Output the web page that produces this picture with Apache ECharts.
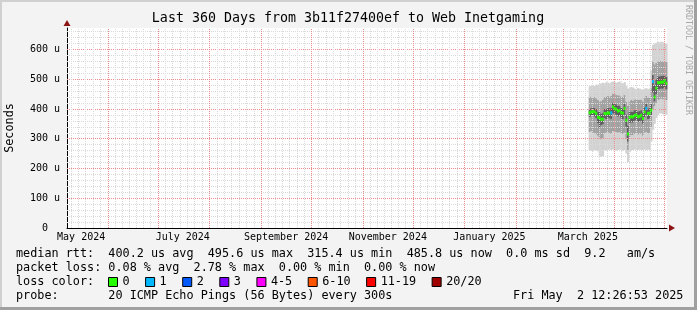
<!DOCTYPE html>
<html><head><meta charset="utf-8">
<script src="https://cdn.jsdelivr.net/npm/echarts@6/dist/echarts.min.js"></script>
<style>html,body{margin:0;padding:0;background:#f3f3f3}#c{width:697px;height:310px}</style>
</head><body><div id="c"></div><script>
// ---------------- data ----------------
const titleText = 'Last 360 Days from 3b11f27400ef to Web Inetgaming';
const rangeStart = '2024-05-07T12:26:53Z';
const rangeEnd = '2025-05-02T12:26:53Z';
const monthStarts = ['2024-05-01','2024-06-01','2024-07-01','2024-08-01','2024-09-01','2024-10-01','2024-11-01','2024-12-01','2025-01-01','2025-02-01','2025-03-01','2025-04-01','2025-05-01','2025-06-01'];
const xLabelDates = ['2024-05-16','2024-07-16','2024-09-16','2024-11-16','2025-01-16','2025-03-16'];
const xLabels = ['May 2024','July 2024','September 2024','November 2024','January 2025','March 2025'];
const yTicks = [0,100,200,300,400,500,600];
const yMax = 672;
const yMinorStep = 20;

// one sample per day (RRA consolidated), first sample date:
const sampleStart = '2025-03-17T00:00:00Z';
const sampleStepDays = 1;
const median     = [387,390,391,390,385,372,370,365,366,385,384,387,386,387,407,401,399,393,395,387,386,402,362,316,372,374,373,378,380,374,375,379,368,390,402,385,386,396,492,440,470,488,488,490,490,495,486];
const lossLevel  = [0,0,0,0,0,0,0,0,0,0,0,0,0,1,0,0,0,0,0,0,0,0,0,0,0,0,0,0,0,0,0,0,0,0,1,0,0,0,1,0,0,0,0,0,0,0,0];
const smokeLo    = [262,260,258,262,260,258,240,238,242,262,260,262,264,262,264,262,260,262,264,262,260,262,250,222,255,262,262,264,262,262,264,262,262,264,262,264,262,290,330,350,370,380,385,385,382,385,380];
const smokeLoMid = [322,325,320,318,315,310,300,298,302,318,320,322,318,316,326,324,322,320,322,318,316,320,300,262,305,312,312,316,318,314,315,316,310,320,322,318,318,340,400,410,420,430,432,434,432,435,430];
const smokeLoIn  = [372,375,376,374,368,352,338,345,348,368,366,370,368,365,385,382,380,374,376,368,366,380,340,290,350,354,354,360,362,356,357,360,350,372,380,366,368,378,455,425,450,465,466,468,468,472,465];
const smokeHiIn  = [400,403,404,405,400,392,390,385,386,402,400,404,403,405,422,418,416,410,412,404,402,418,382,345,390,392,390,396,398,392,393,396,388,406,418,402,404,420,515,480,500,510,510,512,512,515,508];
const smokeHiMid = [440,442,438,440,436,430,428,426,430,440,442,445,442,444,452,450,448,446,446,442,440,448,425,410,428,430,428,432,434,430,430,432,426,438,444,438,440,470,560,550,555,560,562,562,560,562,558];
const smokeHi    = [476,478,480,477,482,480,484,486,488,486,490,488,486,490,492,490,488,490,492,488,486,490,478,468,470,474,472,468,466,470,468,466,464,468,470,466,468,530,615,620,622,625,624,626,624,622,620];

const lossNames  = ['0','1','2','3','4-5','6-10','11-19','20/20'];
const lossColors = ['#26ff00','#00b8ff','#0059ff','#7e00ff','#ff00ff','#ff5500','#ff0000','#a10000'];

const statLine1 = 'median rtt:  400.2 us avg  495.6 us max  315.4 us min  485.8 us now  0.0 ms sd  9.2   am/s';
const statLine2 = 'packet loss: 0.08 % avg  2.78 % max  0.00 % min  0.00 % now';
const statLine3 = 'loss color:';
const statLine4 = 'probe:       20 ICMP Echo Pings (56 Bytes) every 300s';
const stampText = 'Fri May  2 12:26:53 2025';
const yTitle = 'Seconds';
const sideText = 'RRDTOOL / TOBI OETIKER';

// ---------------- build ----------------
const DAY = 86400000;
const tStart = Date.parse(rangeStart), tEnd = Date.parse(rangeEnd);
const t0 = Date.parse(sampleStart);
const stepMs = sampleStepDays * DAY;
const times = median.map((_, i) => t0 + i * stepMs);
const labelTimes = xLabelDates.map(d => Date.parse(d + 'T00:00:00Z'));
const monthTimes = monthStarts.map(d => Date.parse(d + 'T00:00:00Z'));

const MONO = '"DejaVu Sans Mono", monospace';
const RED = '#ec8c8c', GRAY = '#dadada';

const gridLines = [];
for (let v = yMinorStep; v < yMax; v += yMinorStep) {
  const major = v % 100 === 0;
  gridLines.push({yAxis: v, lineStyle: {color: major ? RED : GRAY, type: [1, 1], width: 1}});
}
for (let i = 0; i < monthTimes.length - 1; i++) {
  const a = monthTimes[i], b = monthTimes[i + 1];
  for (let j = 1; j < 7; j++) {
    const t = a + (b - a) * j / 7;
    if (t > tStart && t < tEnd) gridLines.push({xAxis: t, lineStyle: {color: GRAY, type: [1, 1], width: 1}});
  }
  if (a > tStart && a < tEnd) gridLines.push({xAxis: a, lineStyle: {color: RED, type: [1, 1], width: 1}});
}

const smokeData = times.map((t, i) => [t, smokeLo[i], smokeLoMid[i], smokeLoIn[i], smokeHiIn[i], smokeHiMid[i], smokeHi[i]]);
const SHADES = ['#d2d2d2', '#a2a2a2', '#5e5e5e', '#a2a2a2', '#d2d2d2'];

const series = [];
series.push({
  name: 'smoke', type: 'custom', z: 2, silent: true,
  encode: {x: 0, y: [1, 2, 3, 4, 5, 6]},
  data: smokeData,
  renderItem(params, api) {
    const t = api.value(0);
    const w = api.size([stepMs, 0])[0];
    const x = api.coord([t, 0])[0] - w / 2;
    const ys = [1, 2, 3, 4, 5, 6].map(k => api.coord([t, api.value(k)])[1]);
    const children = SHADES.map((c, k) => ({
      type: 'rect',
      shape: {x: x, y: ys[k + 1], width: w + 0.5, height: ys[k] - ys[k + 1]},
      style: {fill: c}
    }));
    return {type: 'group', children};
  }
});
series.push({
  name: 'grid', type: 'line', data: [], silent: true,
  markLine: {silent: true, symbol: ['none', 'none'], label: {show: false}, animation: false, data: gridLines},
  markPoint: {silent: true, label: {show: false}, animation: false, data: [
    {coord: [tStart, yMax], symbol: 'triangle', symbolSize: [7, 6], symbolOffset: [0, -5], itemStyle: {color: '#8b1414'}},
    {coord: [tEnd, 0], symbol: 'triangle', symbolSize: [7, 6], symbolRotate: -90, symbolOffset: [5, 0], itemStyle: {color: '#8b1414'}}
  ]}
});
lossNames.forEach((name, L) => {
  const data = [];
  times.forEach((t, i) => { if (lossLevel[i] === L) data.push([t, median[i]]); });
  series.push({
    name, type: 'custom', z: 10, silent: true,
    itemStyle: {color: lossColors[L]},
    encode: {x: 0, y: 1},
    data,
    renderItem(params, api) {
      const t = api.value(0);
      const w = api.size([stepMs, 0])[0];
      const p = api.coord([t, api.value(1)]);
      return {type: 'rect', shape: {x: p[0] - w / 2, y: p[1] - 1.5, width: w + 0.3, height: 3}, style: {fill: api.visual('color')}};
    }
  });
});

const chart = echarts.init(document.getElementById('c'), null, {renderer: 'canvas'});
chart.setOption({
  animation: false,
  backgroundColor: '#f3f3f3',
  grid: {left: 67, right: 30, top: 28, bottom: 82, show: true, backgroundColor: '#ffffff', borderWidth: 0},
  xAxis: {
    type: 'value', min: tStart, max: tEnd,
    splitLine: {show: false}, axisTick: {show: false},
    axisLine: {lineStyle: {color: '#000', width: 1}},
    axisLabel: {customValues: labelTimes, formatter: v => xLabels[labelTimes.indexOf(v)],
      fontFamily: MONO, fontSize: 10, color: '#000', margin: 4}
  },
  yAxis: {
    type: 'value', min: 0, max: yMax,
    splitLine: {show: false}, axisTick: {show: false},
    axisLine: {show: true, lineStyle: {color: '#000', width: 1}},
    axisLabel: {customValues: yTicks, formatter: v => v === 0 ? '0\u00a0\u00a0' : v + ' u',
      fontFamily: MONO, fontSize: 10, color: '#000', margin: 7}
  },
  legend: {
    data: lossNames, left: 108, top: 275, padding: 0, itemWidth: 9, itemHeight: 9, itemGap: 15.5,
    icon: 'rect', selectedMode: false,
    itemStyle: {borderColor: '#000', borderWidth: 1},
    textStyle: {fontFamily: MONO, fontSize: 11.8, color: '#000', lineHeight: 14}
  },
  graphic: [
    {type: 'rect', shape: {x: 0, y: 0, width: 697, height: 2}, style: {fill: '#d0d0d0'}, silent: true},
    {type: 'rect', shape: {x: 0, y: 0, width: 2, height: 310}, style: {fill: '#d0d0d0'}, silent: true},
    {type: 'rect', shape: {x: 0, y: 307, width: 697, height: 3}, style: {fill: '#a0a0a0'}, silent: true},
    {type: 'rect', shape: {x: 694, y: 0, width: 3, height: 310}, style: {fill: '#a0a0a0'}, silent: true},
    {type: 'text', x: 348, y: 19, silent: true, style: {text: titleText, align: 'center', verticalAlign: 'middle', fontFamily: MONO, fontSize: 13.3, fill: '#000'}},
    {type: 'text', x: 10, y: 128, rotation: Math.PI / 2, silent: true, style: {text: yTitle, align: 'center', verticalAlign: 'middle', fontFamily: MONO, fontSize: 11.8, fill: '#000'}},
    {type: 'text', x: 688, y: 60, rotation: -Math.PI / 2, silent: true, style: {text: sideText, align: 'center', verticalAlign: 'middle', fontFamily: MONO, fontSize: 8.3, fill: '#a8a8a8'}},
    {type: 'text', x: 16, y: 254.3, silent: true, style: {text: statLine1, align: 'left', verticalAlign: 'middle', fontFamily: MONO, fontSize: 11.8, fill: '#000'}},
    {type: 'text', x: 16, y: 268.3, silent: true, style: {text: statLine2, align: 'left', verticalAlign: 'middle', fontFamily: MONO, fontSize: 11.8, fill: '#000'}},
    {type: 'text', x: 16, y: 282.3, silent: true, style: {text: statLine3, align: 'left', verticalAlign: 'middle', fontFamily: MONO, fontSize: 11.8, fill: '#000'}},
    {type: 'text', x: 16, y: 296.2, silent: true, style: {text: statLine4, align: 'left', verticalAlign: 'middle', fontFamily: MONO, fontSize: 11.8, fill: '#000'}},
    {type: 'text', x: 513, y: 296.2, silent: true, style: {text: stampText, align: 'left', verticalAlign: 'middle', fontFamily: MONO, fontSize: 11.8, fill: '#000'}}
  ],
  series
});
</script></body></html>
